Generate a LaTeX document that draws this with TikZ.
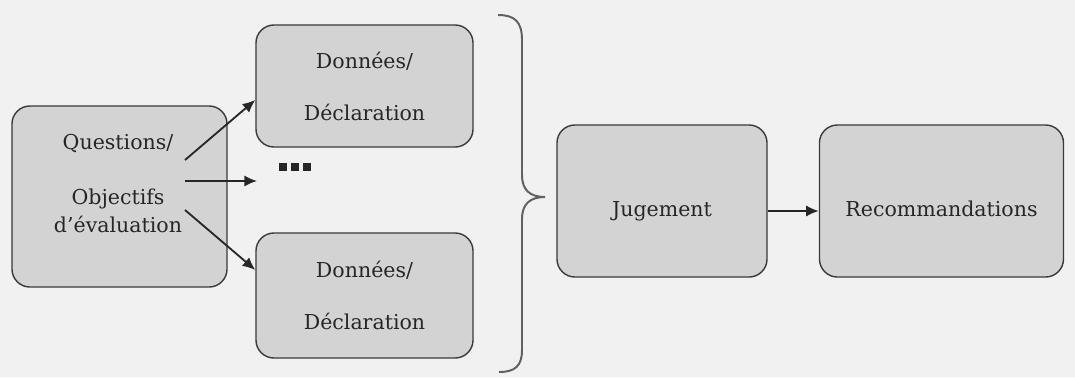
\documentclass[tikz,border=0pt]{standalone}
\usepackage{fontspec}
\setmainfont{DejaVu Serif}
\usepackage{tikz}
\usetikzlibrary{arrows.meta,positioning,calc}
\definecolor{boxgray}{HTML}{D3D3D3}
\definecolor{papergray}{HTML}{F1F1F1}
\definecolor{edgegray}{HTML}{3A3A3A}
\tikzset{
  stagebox/.style={draw=edgegray, line width=1pt, fill=boxgray, rounded corners=0.45cm,
    align=center, font=\fontsize{14.6}{20}\selectfont, text=black!85},
  flow/.style={-{Latex[length=9pt,width=8pt]}, line width=1.3pt, black!85}
}

\begin{document}
\begin{tikzpicture}[x=0.025cm, y=-0.025cm]
\fill[papergray] (0,0) rectangle (1075,377);
\useasboundingbox (0,0) rectangle (1075,377);
% question box and the data boxes
\node[stagebox, minimum width=5.375cm, minimum height=4.525cm] (qbox) at (119.5,196.5) {};
\node[align=center, font=\fontsize{14.6}{20}\selectfont, text=black!85] (qtext) at (118,184)
  {Questions/\\[19pt]Objectifs\\d'évaluation};
\node[stagebox, minimum width=5.425cm, minimum height=3.05cm] (dtop) at (364.5,86)
  {Données/\\[17pt]Déclaration};
\node[stagebox, minimum width=5.425cm, minimum height=3.125cm] (dbot) at (364.5,295.5)
  {Données/\\[17pt]Déclaration};
\node[text=black!85, inner sep=0pt] (dots) at (295,167)
  {\rule{0.21cm}{0.21cm}\hspace{0.09cm}\rule{0.21cm}{0.21cm}\hspace{0.09cm}\rule{0.21cm}{0.21cm}};
\coordinate (q1) at (185,160);
\coordinate (q2) at (185,181);
\coordinate (q3) at (185,210);
\coordinate (mid) at (257,181);
\draw[flow] (q1) -- ([yshift=-0.35cm]dtop.west);
\draw[flow] (q2) -- (mid);
\draw[flow] (q3) -- ([yshift=0.64cm]dbot.west);
% brace
\draw[edgegray!80, line width=1.4pt] (498,15) .. controls (515,15) and (522,22) .. (522,40)
  -- (522,175) .. controls (522,190) and (530,197) .. (545,197)
  .. controls (530,197) and (522,204) .. (522,219)
  -- (522,350) .. controls (522,366) and (515,372) .. (499,372);
% judgement and recommendations
\node[stagebox, minimum width=5.25cm, minimum height=3.8cm] (jug) at (662,201)
  {\raisebox{-0.2cm}[\height][0pt]{Jugement}};
\node[stagebox, minimum width=6.1cm, minimum height=3.8cm, right=1.275cm of jug] (rec)
  {\raisebox{-0.2cm}[\height][0pt]{Recommandations}};
\draw[flow] ([yshift=-0.25cm]jug.east) -- ([yshift=-0.25cm]rec.west);
\end{tikzpicture}
\end{document}
